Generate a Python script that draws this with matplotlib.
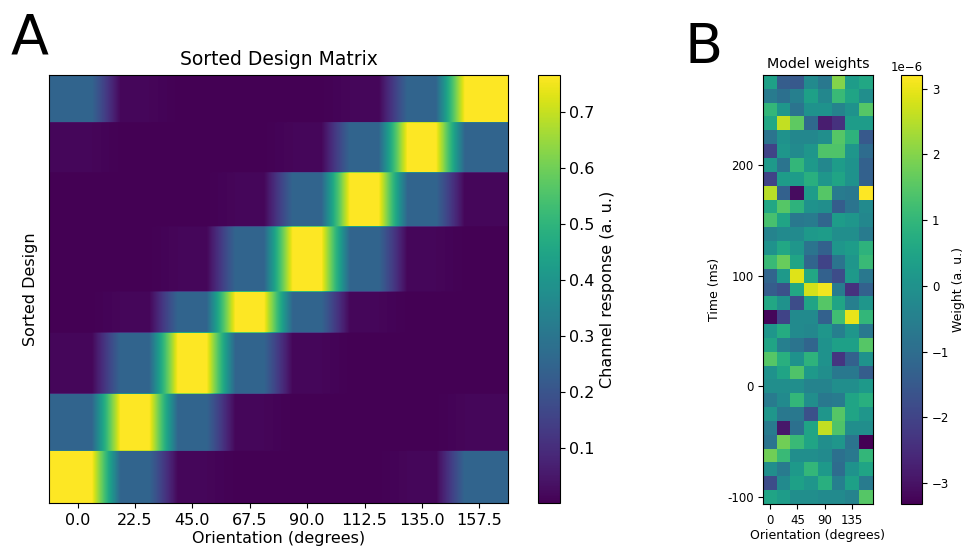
import numpy as np
import matplotlib
matplotlib.use("Agg")
import matplotlib.pyplot as plt

# Panel A: sorted design matrix
orientations = [0.0, 22.5, 45.0, 67.5, 90.0, 112.5, 135.0, 157.5]
trial_counts = [52, 57, 61, 41, 65, 54, 50, 47]
# channel response by circular distance (in channels) from the stimulus orientation
channel_profile = [0.767, 0.25, 0.014, 0.004, 0.002]

# Panel B: model weights (x 1e-6), rows from 275 ms (top) down to -100 ms
time_first, time_step, n_times = -100.0, 12.5, 31
weight_ticks = [0, 45, 90, 135]
time_ticks = [-100, 0, 100, 200]
weights = [
    [0.4, -1.4, -1.5, -0.2, -0.7, 2.0, 0.3, 0.6],
    [-0.6, -0.9, -0.5, 0.4, -0.3, 1.1, 0.5, -0.1],
    [1.0, 0.1, -0.8, 0.0, 0.0, -0.4, 0.0, 1.5],
    [0.6, 2.6, 1.6, -1.1, -2.8, -2.4, 0.3, 0.3],
    [-0.8, 0.0, -0.3, -0.3, -0.1, 1.5, 0.9, -1.5],
    [-2.0, 0.1, -0.2, 0.1, 1.4, 1.4, 0.1, -1.0],
    [0.2, -0.8, 1.0, 0.2, -0.3, 0.3, 0.0, -1.3],
    [-2.0, 0.3, 0.3, 0.8, 0.1, 0.5, 0.0, -1.3],
    [2.5, -1.3, -3.1, 0.3, 1.5, -0.6, -0.7, 3.21],
    [0.6, 1.5, 0.9, 0.0, -0.1, -1.4, -0.8, -0.2],
    [1.3, 0.5, -0.7, -0.6, -1.2, 0.3, 0.1, -0.3],
    [-0.4, -0.2, -0.2, 0.2, 0.3, -0.1, -0.1, -0.6],
    [0.0, 0.6, 0.1, -0.8, -1.3, 0.1, 0.3, 0.9],
    [1.1, 1.7, 0.5, -1.2, -2.0, -0.8, 0.1, 1.1],
    [-1.2, 0.2, 2.9, 0.6, -1.3, -1.8, 0.2, -0.7],
    [-1.4, -1.7, 0.6, 2.8, 3.1, -0.6, -2.4, -1.3],
    [0.6, 0.0, -1.8, 0.5, 1.5, 0.5, -0.5, 0.1],
    [-3.2, -2.0, -0.2, -0.2, -1.3, 1.2, 3.0, 1.0],
    [0.1, 0.7, -0.2, -0.3, 0.1, -0.5, 0.1, -0.7],
    [0.5, -0.5, -0.8, -1.2, 0.0, 0.4, 0.4, 1.5],
    [1.5, 0.8, 0.0, 0.9, 0.0, -2.3, -1.3, 0.0],
    [0.0, 0.5, 1.4, 0.2, -0.1, -0.7, -0.7, -1.4],
    [-0.1, -0.1, -0.1, -0.4, -0.4, -0.1, -0.1, 0.2],
    [-0.6, -0.2, 1.0, -0.1, -0.7, -0.6, 0.5, 0.8],
    [0.1, -0.7, -0.7, -1.7, 0.1, 1.5, 0.5, 0.1],
    [-0.6, -2.9, -0.9, 0.5, 2.6, 1.4, -0.1, -0.1],
    [-0.8, 1.8, 1.1, 0.5, -0.1, 0.1, -0.8, -3.32],
    [1.8, 1.1, -0.1, -0.1, -0.2, -0.9, -0.7, 1.0],
    [-0.1, -0.6, 0.2, 1.0, 0.2, -1.0, 0.0, 0.5],
    [-1.8, -0.2, 0.4, 0.1, 0.8, -0.5, 0.4, -0.6],
    [0.5, 0.3, -0.1, -0.1, -0.2, -0.2, -0.4, 1.5],
]

n_chan = len(orientations)
half = (orientations[1] - orientations[0]) / 2

# build the design matrix row by row
rows = []
for k, count in enumerate(trial_counts):
    row = []
    for j in range(n_chan):
        d = abs(j - k)
        d = min(d, n_chan - d)
        row.append(channel_profile[d])
    rows.extend([row] * count)
design = np.array(rows)
# split each channel column in two so the smoothing only softens the edges
design_disp = np.repeat(design, 2, axis=1)

W = np.array(weights) * 1e-6

fig = plt.figure(figsize=(9.66, 5.56), dpi=100)
W_px, H_px = 966, 556


def box(x0, x1, y0, y1):
    return [x0 / W_px, 1 - y1 / H_px, (x1 - x0) / W_px, (y1 - y0) / H_px]


# ---- panel A
ax1 = fig.add_axes(box(49, 508, 75, 503))
im1 = ax1.imshow(design_disp, aspect="auto", origin="lower", cmap="viridis",
                 extent=[orientations[0] - half, orientations[-1] + half, 0, len(design)],
                 interpolation="bilinear", interpolation_stage="data")
ax1.set_xticks(orientations)
ax1.set_yticks([])
ax1.tick_params(labelsize=11.5)
ax1.set_xlabel("Orientation (degrees)", fontsize=11.5, labelpad=2)
ax1.set_ylabel("Sorted Design", fontsize=11.5, labelpad=8)
ax1.set_title("Sorted Design Matrix", fontsize=13.5, pad=7)

cax1 = fig.add_axes(box(537.5, 559.5, 75, 503))
cb1 = fig.colorbar(im1, cax=cax1)
cb1.ax.tick_params(labelsize=11.5)
cb1.set_label("Channel response (a. u.)", fontsize=11.5)

# ---- panel B
t_lo = time_first - time_step / 2
t_hi = time_first + (n_times - 1) * time_step + time_step / 2
ax2 = fig.add_axes(box(763.3, 872.7, 75, 504))
im2 = ax2.imshow(W, aspect="auto", origin="upper", cmap="viridis",
                 extent=[orientations[0] - half, orientations[-1] + half, t_lo, t_hi],
                 interpolation="nearest")
ax2.set_xticks(weight_ticks)
ax2.set_yticks(time_ticks, labels=[str(t) for t in time_ticks])
ax2.tick_params(labelsize=8.5)
ax2.set_xlabel("Orientation (degrees)", fontsize=9, labelpad=2)
ax2.set_ylabel("Time (ms)", fontsize=9)
ax2.set_title("Model weights", fontsize=10.3, pad=5)

cax2 = fig.add_axes(box(900.7, 922.3, 75, 504))
cb2 = fig.colorbar(im2, cax=cax2)
cb2.ax.tick_params(labelsize=8.5)
cb2.ax.yaxis.get_offset_text().set_fontsize(8.5)
cb2.set_label("Weight (a. u.)", fontsize=9, labelpad=2)

fig.text(11 / W_px, 1 - 53 / H_px, "A", fontsize=40, va="baseline")
fig.text(684 / W_px, 1 - 63 / H_px, "B", fontsize=40, va="baseline")

fig.savefig("out.png", dpi=100)
